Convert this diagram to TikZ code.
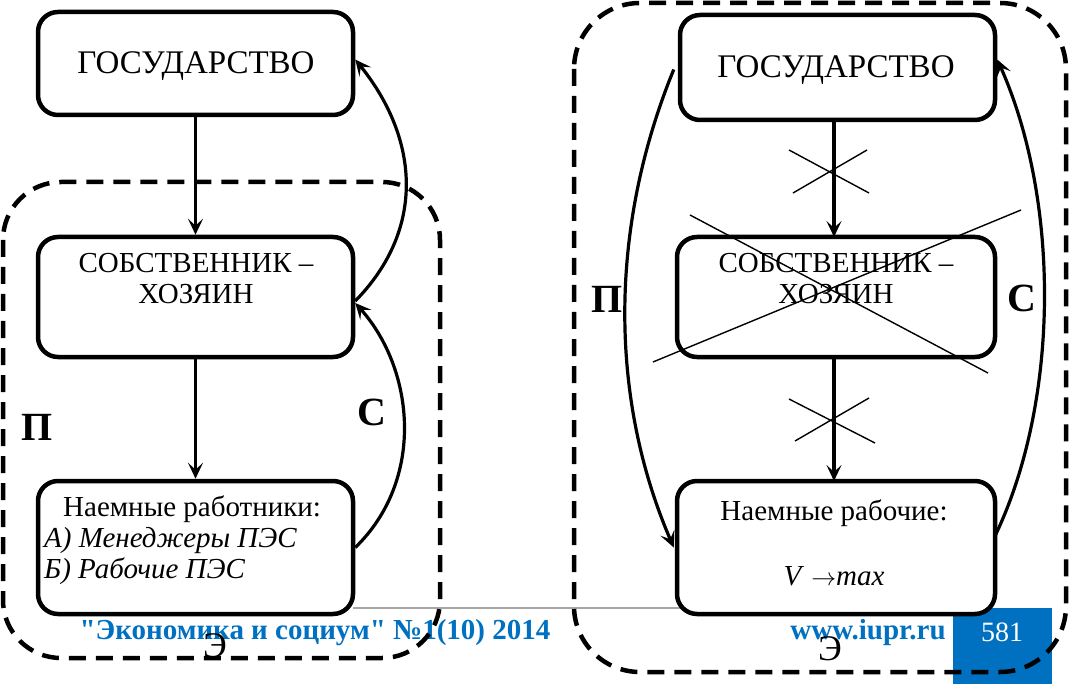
\documentclass[tikz,border=0pt]{standalone}
\usepackage{fontspec}
\setmainfont{Liberation Serif}
\newfontfamily\footfont{Liberation Serif}
\usetikzlibrary{arrows.meta,calc}
\definecolor{jblue}{HTML}{0070C0}
\tikzset{
  box/.style={draw,line width=4.5pt,rounded corners=20pt,fill=white,inner sep=0pt},
  conn/.style={line width=3.2pt,-{Stealth[length=16pt,width=15pt,inset=7pt]}},
  cross/.style={line width=1.4pt},
  frame/.style={line width=4.5pt,dash pattern=on 17pt off 10pt},
  lbl/.style={font=\fontsize{40}{40}\selectfont\bfseries,inner sep=0pt},
  elbl/.style={font=\fontsize{36}{36}\selectfont,inner sep=0pt},
  foot/.style={text=jblue,font=\footfont\fontsize{29}{29}\selectfont\bfseries,inner sep=0pt}
}
\begin{document}
\begin{tikzpicture}[x=1pt,y=-1pt]
\useasboundingbox (0,0) rectangle (1070,684);
% footer
\draw[gray!70,line width=1.3pt] (353,608) -- (953,608);
\fill[jblue] (953,608) rectangle (1052,684);
\node[text=white,font=\fontsize{28}{28}\selectfont,inner sep=0pt] (pg) at (1002,632) {581};
\node[foot] (jt) at (315,633) {"Экономика и социум" №1(10) 2014};
\node[foot] (ws) at (868,633) {www.iupr.ru};
% dashed frames
\draw[frame,rounded corners=58pt] (3,182) rectangle (440,658);
\draw[frame,rounded corners=66pt] (574,3) rectangle (1066,672);
% left column
\node[box,minimum width=315pt,minimum height=103pt] (g1) at (195.5,63.5) {};
\node[box,minimum width=315pt,minimum height=120pt] (s1) at (195.5,297) {};
\node[box,minimum width=315pt,minimum height=133pt] (n1) at (195.5,547.5) {};
\node[font=\fontsize{33}{33}\selectfont,inner sep=0pt] (g1t) at (196,66) {ГОСУДАРСТВО};
\node[font=\fontsize{29}{31}\selectfont,align=center,inner sep=0pt,anchor=north] (s1t) at (196,253) {СОБСТВЕННИК –\\ХОЗЯИН};
\node[font=\fontsize{29}{31}\selectfont,align=left,inner sep=0pt,anchor=north west] (n1t) at (44,496) {\hspace*{19pt}Наемные работники:\\\textit{А) Менеджеры ПЭС}\\\textit{Б) Рабочие ПЭС}};
\draw[conn] (g1.south) -- (s1.north);
\draw[conn] (s1.south) -- (n1.north);
\draw[conn] (n1.east) .. controls (425,480) and (415,370) .. ($(s1.east)+(0,6)$);
\draw[conn] ($(s1.east)+(0,4)$) .. controls (425,230) and (420,140) .. ($(g1.east)+(0,-4)$);
\node[lbl] (p1) at (37,427) {П};
\node[lbl] (c1) at (372,412) {С};
\node[elbl] (e1) at (215,646) {Э};
% right column
\node[box,minimum width=315pt,minimum height=105pt] (g2) at (837.5,67.5) {};
\node[box,minimum width=318pt,minimum height=120pt] (s2) at (836,297) {};
\node[box,minimum width=318pt,minimum height=133pt] (n2) at (836,547.5) {};
\node[font=\fontsize{33}{33}\selectfont,inner sep=0pt] (g2t) at (836,70) {ГОСУДАРСТВО};
\node[font=\fontsize{29}{31}\selectfont,align=center,inner sep=0pt,anchor=north] (s2t) at (836,253) {СОБСТВЕННИК –\\ХОЗЯИН};
\node[font=\fontsize{29}{29}\selectfont,inner sep=0pt] (n2t) at (834,513) {Наемные рабочие:};
\node[font=\fontsize{29}{29}\selectfont,inner sep=0pt] (n2v) at (834,576) {\textit{V} $\rightarrow$\textit{max}};
\draw[conn] (834,120) coordinate (a1) -- (834,237) coordinate (a2);
\draw[conn] (834,357) coordinate (b1) -- (834,481) coordinate (b2);
\draw[cross] (789,150) -- (869,193) (793,193) -- (867,150);
\draw[cross] (789,399) -- (875,443) (795,441) -- (869,398);
\draw[cross] (690,215) -- (988,373) (1021,210) -- (653,362);
\draw[conn] ($(g2.west)+(-4,2)$) .. controls (608,230) and (610,400) .. ($(n2.west)+(-1,0)$);
\draw[conn] ($(n2.east)+(-2,-12)$) .. controls (1060,400) and (1060,200) .. ($(g2.east)+(0,-8)$);
\node[lbl] (p2) at (607,299) {П};
\node[lbl] (c2) at (1022,298) {С};
\node[elbl] (e2) at (830,649) {Э};
\end{tikzpicture}
\end{document}
